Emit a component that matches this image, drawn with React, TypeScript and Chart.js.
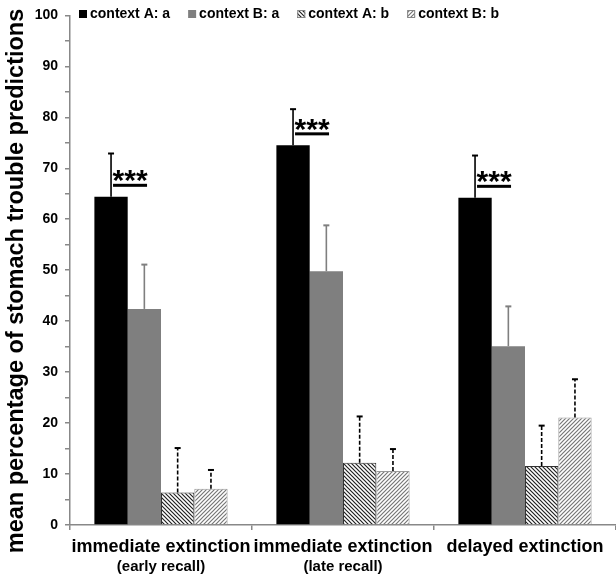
import React, { useEffect, useRef } from "react";
import { Chart, registerables } from "chart.js";

Chart.register(...registerables);

const categoryMain = ["immediate extinction", "immediate extinction", "delayed extinction"];
const categorySub = ["(early recall)", "(late recall)", ""];
const seriesNames = ["context A: a", "context B: a", "context A: b", "context B: b"];
const ctxAa = [64.4, 74.5, 64.2];
const ctxBa = [42.4, 49.8, 35.1];
const ctxAb = [6.4, 12.2, 11.6];
const ctxBb = [7.1, 10.6, 21.1];
const errAa = [8.5, 7.1, 8.3];
const errBa = [8.7, 9.0, 7.8];
const errAb = [8.7, 9.1, 7.9];
const errBb = [3.7, 4.3, 7.5];
const significance = ["***", "***", "***"];
const yTicks = [0, 10, 20, 30, 40, 50, 60, 70, 80, 90, 100];

const FONT = "'Liberation Sans', Arial, sans-serif";

function makePattern(dir: "back" | "fwd", color: string): CanvasPattern | string {
  const c = document.createElement("canvas");
  const s = 4;
  c.width = s;
  c.height = s;
  const g = c.getContext("2d")!;
  g.fillStyle = "#ffffff";
  g.fillRect(0, 0, s, s);
  g.strokeStyle = color;
  g.lineWidth = 1.2;
  g.beginPath();
  if (dir === "back") {
    g.moveTo(-1, -1); g.lineTo(s + 1, s + 1);
    g.moveTo(-1, s - 1); g.lineTo(1, s + 1);
    g.moveTo(s - 1, -1); g.lineTo(s + 1, 1);
  } else {
    g.moveTo(-1, s + 1); g.lineTo(s + 1, -1);
    g.moveTo(-1, 1); g.lineTo(1, -1);
    g.moveTo(s - 1, s + 1); g.lineTo(s + 1, s - 1);
  }
  g.stroke();
  const p = g.createPattern(c, "repeat");
  return p || color;
}

export default function App() {
  const ref = useRef<HTMLCanvasElement | null>(null);

  useEffect(() => {
    document.body.style.margin = "0";
    const canvas = ref.current!;
    const patAb = makePattern("back", "#222222");
    const patBb = makePattern("fwd", "#777777");
    const errs = [errAa, errBa, errAb, errBb];
    const errColors = ["#000000", "#7f7f7f", "#000000", "#000000"];
    const errDash = [false, false, true, true];
    const fills: any[] = ["#000000", "#7f7f7f", patAb, patBb];

    const overlay = {
      id: "overlay",
      afterDatasetsDraw(chart: any) {
        const ctx = chart.ctx;
        const y = chart.scales.y;
        ctx.save();
        errs.forEach((arr, di) => {
          const meta = chart.getDatasetMeta(di);
          meta.data.forEach((bar: any, i: number) => {
            const v = (chart.data.datasets[di].data as number[])[i];
            const top = y.getPixelForValue(v + arr[i]);
            const x = bar.x;
            ctx.strokeStyle = errColors[di];
            ctx.lineWidth = 1.6;
            ctx.setLineDash(errDash[di] ? [4, 2] : []);
            ctx.beginPath();
            ctx.moveTo(x, bar.y);
            ctx.lineTo(x, top);
            ctx.stroke();
            ctx.setLineDash([]);
            ctx.lineWidth = 2;
            ctx.beginPath();
            ctx.moveTo(x - 3, top);
            ctx.lineTo(x + 3, top);
            ctx.stroke();
          });
        });
        const m0 = chart.getDatasetMeta(0);
        m0.data.forEach((bar: any, i: number) => {
          const uy = bar.y - 11.5;
          const x0 = bar.x + 2;
          const x1 = bar.x + 36;
          ctx.fillStyle = "#000";
          ctx.fillRect(x0, uy - 1.5, x1 - x0, 3);
          ctx.font = `bold 30px ${FONT}`;
          ctx.textAlign = "center";
          ctx.textBaseline = "alphabetic";
          const m = ctx.measureText(significance[i]);
          const desc = m.actualBoundingBoxDescent || -9;
          ctx.fillText(significance[i], (x0 + x1) / 2, uy - 3 - desc);
        });
        ctx.restore();
      },
      afterDraw(chart: any) {
        const ctx = chart.ctx;
        const x = chart.scales.x;
        ctx.save();
        ctx.fillStyle = "#000";
        ctx.textAlign = "center";
        ctx.textBaseline = "middle";
        categoryMain.forEach((lab, i) => {
          const cx = x.getPixelForValue(i);
          ctx.font = `bold 18px ${FONT}`;
          ctx.fillText(lab, cx, 547);
          if (categorySub[i]) {
            ctx.font = `bold 15px ${FONT}`;
            ctx.fillText(categorySub[i], cx, 567);
          }
        });
        ctx.save();
        ctx.translate(17, 281);
        ctx.rotate(-Math.PI / 2);
        ctx.font = `bold 23.5px ${FONT}`;
        ctx.fillText("mean percentage of stomach trouble predictions", 0, 0);
        ctx.restore();
        let lx = 79;
        ctx.font = `bold 14px ${FONT}`;
        ctx.textAlign = "left";
        seriesNames.forEach((name, i) => {
          ctx.fillStyle = fills[i];
          ctx.fillRect(lx, 10, 8, 8);
          if (i >= 2) {
            ctx.strokeStyle = "#888";
            ctx.lineWidth = 1;
            ctx.strokeRect(lx + 0.5, 10.5, 7, 7);
          }
          ctx.fillStyle = "#000";
          ctx.fillText(name, lx + 11, 14.5);
          lx += 11 + ctx.measureText(name).width + 18;
        });
        ctx.restore();
      },
    };

    const chart = new Chart(canvas, {
      type: "bar",
      data: {
        labels: categoryMain,
        datasets: [
          { label: seriesNames[0], data: ctxAa, backgroundColor: "#000000", borderWidth: 0 },
          { label: seriesNames[1], data: ctxBa, backgroundColor: "#7f7f7f", borderWidth: 0 },
          { label: seriesNames[2], data: ctxAb, backgroundColor: patAb as any, borderColor: "#333333", borderWidth: 1 },
          { label: seriesNames[3], data: ctxBb, backgroundColor: patBb as any, borderColor: "#999999", borderWidth: 1 },
        ],
      },
      options: {
        animation: false,
        responsive: false,
        maintainAspectRatio: false,
        layout: { padding: { top: 8, right: 0, left: 0, bottom: 0 } },
        datasets: { bar: { categoryPercentage: 0.732, barPercentage: 1 } },
        plugins: { legend: { display: false }, tooltip: { enabled: false } },
        scales: {
          x: {
            grid: { display: true, drawOnChartArea: false, offset: true, tickLength: 5, color: "#888", lineWidth: 1.5 },
            border: { color: "#888", width: 1.5 },
            ticks: { display: false },
            afterFit(scale: any) { scale.height = 50; },
          },
          y: {
            min: 0,
            max: 100,
            grid: { drawOnChartArea: false, tickLength: 5, color: "#888", lineWidth: 1.5 },
            border: { color: "#888", width: 1.5 },
            ticks: {
              stepSize: 5,
              color: "#000",
              padding: 7,
              font: { family: FONT, size: 14, weight: "bold" },
              callback: (v: any) => (yTicks.includes(Number(v)) ? String(v) : ""),
            },
            afterFit(scale: any) { scale.width = 70; },
          },
        },
      },
      plugins: [overlay],
    });
    return () => chart.destroy();
  }, []);

  return <canvas ref={ref} width={616} height={575} style={{ display: "block" }} />;
}
